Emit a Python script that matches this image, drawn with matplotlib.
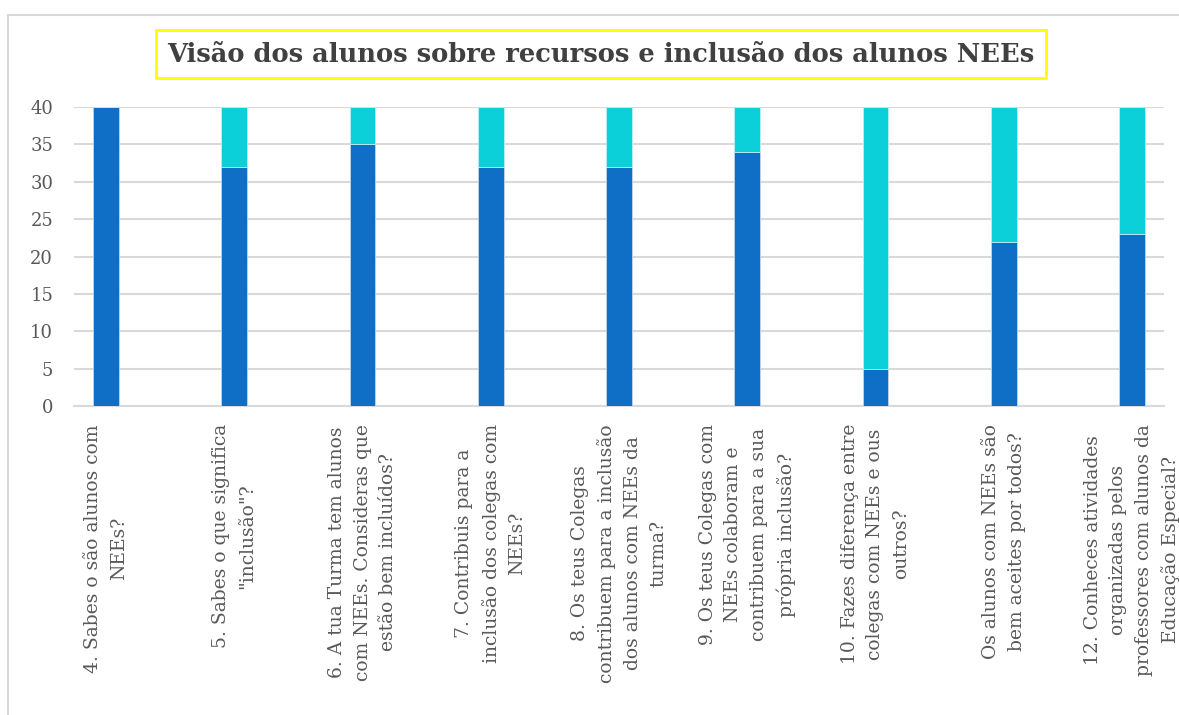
import matplotlib
matplotlib.use("Agg")
import matplotlib.pyplot as plt
from matplotlib.patches import Rectangle

categories = [
    "4. Sabes o são alunos com\nNEEs?",
    "5. Sabes o que significa\n\"inclusão\"?",
    "6. A tua Turma tem alunos\ncom NEEs. Consideras que\nestão bem incluídos?",
    "7. Contribuis para a\ninclusão dos colegas com\nNEEs?",
    "8. Os teus Colegas\ncontribuem para a inclusão\ndos alunos com NEEs da\nturma?",
    "9. Os teus Colegas com\nNEEs colaboram e\ncontribuem para a sua\nprópria inclusão?",
    "10. Fazes diferença entre\ncolegas com NEEs e ous\noutros?",
    "Os alunos com NEEs são\nbem aceites por todos?",
    "12. Conheces atividades\norganizadas pelos\nprofessores com alunos da\nEducação Especial?",
]
sim = [40, 32, 35, 32, 32, 34, 5, 22, 23]
nao = [0, 8, 5, 8, 8, 6, 35, 18, 17]
yticks = [0, 5, 10, 15, 20, 25, 30, 35, 40]
title = "Visão dos alunos sobre recursos e inclusão dos alunos NEEs"

W, H = 1179, 715
fig = plt.figure(figsize=(W / 100, H / 100), dpi=100)
fig.patch.set_facecolor("white")

# chart border (light gray)
fig.patches.append(Rectangle((8 / W, -0.1), 1.2, 1 - 15 / H + 0.1, transform=fig.transFigure,
                             fill=False, edgecolor="#D9D9D9", linewidth=1.5))

ax = fig.add_axes([74 / W, 1 - 406 / H, (1164 - 74) / W, (406 - 107) / H])
x = list(range(len(categories)))
ax.bar(x, sim, width=0.2, color="#0F6FC6", edgecolor="#BFD6EE", linewidth=0.6, zorder=3)
ax.bar(x, nao, width=0.2, bottom=sim, color="#0BD0D9", edgecolor="#BDEFF2", linewidth=0.6, zorder=3)

ax.set_xlim(-0.25, len(categories) - 0.75)
ax.set_ylim(0, 40)
ax.set_yticks(yticks)
ax.set_yticklabels([str(v) for v in yticks], fontsize=13, color="#595959", family="DejaVu Serif")
ax.tick_params(axis="y", length=0, pad=15)
ax.set_xticks([])
ax.grid(axis="y", color="#D9D9D9", linewidth=1.5, zorder=0)
for s in ["top", "right", "left"]:
    ax.spines[s].set_visible(False)
ax.spines["bottom"].set_color("#D9D9D9")
ax.spines["bottom"].set_linewidth(1.5)

for xi, lab in zip(x, categories):
    ax.annotate(lab, xy=(xi, 0), xycoords=("data", "axes fraction"), xytext=(0, -13),
                textcoords="offset points", rotation=90, ha="center", va="top",
                multialignment="center", fontsize=13.5, color="#595959",
                family="DejaVu Serif", linespacing=1.55, annotation_clip=False)

fig.text(601 / W, 1 - 54 / H, title, ha="center", va="center", fontsize=18.5,
         fontweight="bold", color="#404040", family="DejaVu Serif",
         bbox=dict(boxstyle="square,pad=0.45", facecolor="white", edgecolor="#FFFF00", linewidth=2))

fig.savefig("out.png", dpi=100)
